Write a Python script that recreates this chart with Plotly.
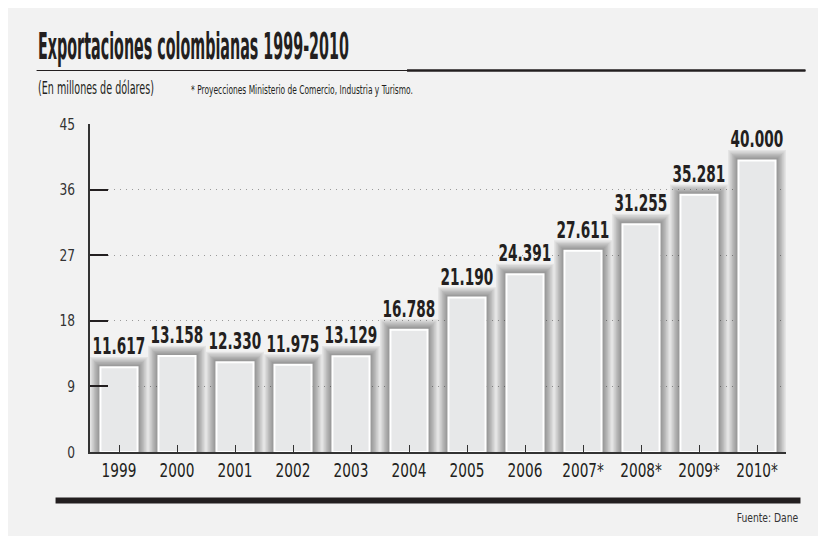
import json
import plotly.graph_objects as go

years = ["1999", "2000", "2001", "2002", "2003", "2004", "2005", "2006",
         "2007*", "2008*", "2009*", "2010*"]
values = [11.617, 13.158, 12.330, 11.975, 13.129, 16.788, 21.190, 24.391,
          27.611, 31.255, 35.281, 40.000]
labels = ["11.617", "13.158", "12.330", "11.975", "13.129", "16.788", "21.190",
          "24.391", "27.611", "31.255", "35.281", "40.000"]
y_ticks = [0, 9, 18, 27, 36, 45]

title = "Exportaciones colombianas 1999-2010"
subtitle = "(En millones de dólares)"
note = "* Proyecciones Ministerio de Comercio, Industria y Turismo."
source = "Fuente: Dane"

W, H = 826, 536
OFF = 8  # page margin of the browser
L, R, T, B = 81.5, 778.5, 116, 444  # plot area in figure pixels
FONT = "DejaVu Sans Condensed, DejaVu Sans, sans-serif"
INK = "#231f20"
BG = "#f2f2f2"


def px(x):
    # screen x -> paper coordinate
    return (x - OFF - L) / (R - L)


def py(y):
    # screen y -> paper coordinate
    return (B - (y - OFF)) / (B - T)


idx = list(range(len(years)))
fig = go.Figure()

# soft shadow halo behind bars
bar_w = 0.64
unit_px = (B - T) / 45.0
cat_px = (R - L) / 12.0
for k in range(8, 0, -1):
    grow = k * 1.3
    fig.add_trace(go.Bar(
        x=idx, y=[v + grow / unit_px for v in values],
        width=bar_w + 2 * grow / cat_px,
        marker=dict(color="rgba(0,0,0,0.06)", line=dict(width=0)),
        hoverinfo="skip", showlegend=False))

fig.add_trace(go.Bar(
    x=idx, y=values, width=bar_w,
    marker=dict(color="#e7e8e9", line=dict(color="white", width=2)),
    showlegend=False))

for i, v, lab in zip(idx, values, labels):
    fig.add_annotation(x=i, y=v, text="<b>%s</b>" % lab, showarrow=False,
                       yanchor="bottom", yshift=6,
                       font=dict(family=FONT, size=23, color=INK))

fig.update_layout(
    width=W, height=H, barmode="overlay",
    paper_bgcolor=BG, plot_bgcolor=BG,
    margin=dict(l=L, r=W - R, t=T, b=H - B),
    font=dict(family=FONT, color=INK),
    xaxis=dict(range=[-0.5, 11.5], tickvals=idx, ticktext=years,
               showline=True, linecolor="#333", tickangle=0,
               linewidth=1.5, ticks="inside",
               ticklen=7, tickcolor="#333", tickwidth=1.2,
               showgrid=False, tickfont=dict(size=19, color=INK),
               fixedrange=True),
    yaxis=dict(range=[0, 45], tickvals=y_ticks, showline=True,
               linecolor="#333", linewidth=1.5, ticks="inside", ticklen=18,
               tickcolor=INK, tickwidth=1.5, showgrid=True,
               gridcolor="#9a9a9a", griddash="1px,5px", gridwidth=1,
               zeroline=False, ticklabelstandoff=10,
               tickfont=dict(size=16, color="#333"), fixedrange=True),
)
# x ticks at category boundaries (drawn between bars)
fig.update_xaxes(tickson="boundaries")

# title, subtitle and decorations
fig.add_annotation(xref="paper", yref="paper", x=px(35), y=py(46),
                   xanchor="left", yanchor="middle", showarrow=False,
                   text="<b>%s</b>" % title,
                   font=dict(family=FONT, size=37, color=INK))
fig.add_annotation(xref="paper", yref="paper", x=px(35), y=py(88),
                   xanchor="left", yanchor="middle", showarrow=False,
                   text=subtitle, font=dict(family=FONT, size=17, color=INK))
fig.add_annotation(xref="paper", yref="paper", x=px(189), y=py(89),
                   xanchor="left", yanchor="middle", showarrow=False,
                   text=note, font=dict(family=FONT, size=13, color=INK))
fig.add_annotation(xref="paper", yref="paper", x=px(802), y=py(518),
                   xanchor="right", yanchor="middle", showarrow=False,
                   text=source, font=dict(family=FONT, size=12, color="#333"))

fig.add_shape(type="line", xref="paper", yref="paper",
              x0=px(36), x1=px(806), y0=py(70.5), y1=py(70.5),
              line=dict(color=INK, width=1.2))
fig.add_shape(type="line", xref="paper", yref="paper",
              x0=px(407), x1=px(806), y0=py(70.5), y1=py(70.5),
              line=dict(color=INK, width=2.5))
fig.add_shape(type="line", xref="paper", yref="paper",
              x0=px(55), x1=px(801), y0=py(500.5), y1=py(500.5),
              line=dict(color=INK, width=6))

# Horizontal condensing of text (the reference uses a compressed typeface).
# Per annotation: [target width in px or None, fixed scale, pivot]
squeeze = {
    "<b>%s</b>" % title: [311, None, "start"],
    subtitle: [116, None, "start"],
    note: [222, None, "start"],
    source: [62, None, "end"],
}
for lab in labels:
    squeeze["<b>%s</b>" % lab] = [None, 0.66, "middle"]

post = """
var gd = document.getElementById('{plot_id}');
var spec = %s;
function sq(t, s, mode) {
  var bb = t.getBBox();
  var p = mode === 'start' ? bb.x : (mode === 'end' ? bb.x + bb.width : bb.x + bb.width / 2);
  var old = t.getAttribute('transform') || '';
  t.setAttribute('transform', old + ' translate(' + p + ',0) scale(' + s + ',1) translate(' + (-p) + ',0)');
}
gd.querySelectorAll('g.xtick text').forEach(function (t) { sq(t, 0.8, 'middle'); });
gd.querySelectorAll('g.ytick text').forEach(function (t) { sq(t, 0.85, 'end'); });
gd.querySelectorAll('text.annotation-text').forEach(function (t) {
  var k = t.getAttribute('data-unformatted');
  var e = spec[k];
  if (!e) return;
  var s = e[1];
  if (e[0]) { s = e[0] / t.getBBox().width; }
  sq(t, s, e[2]);
});
""" % json.dumps(squeeze)

fig.write_html("out.html", post_script=post)
